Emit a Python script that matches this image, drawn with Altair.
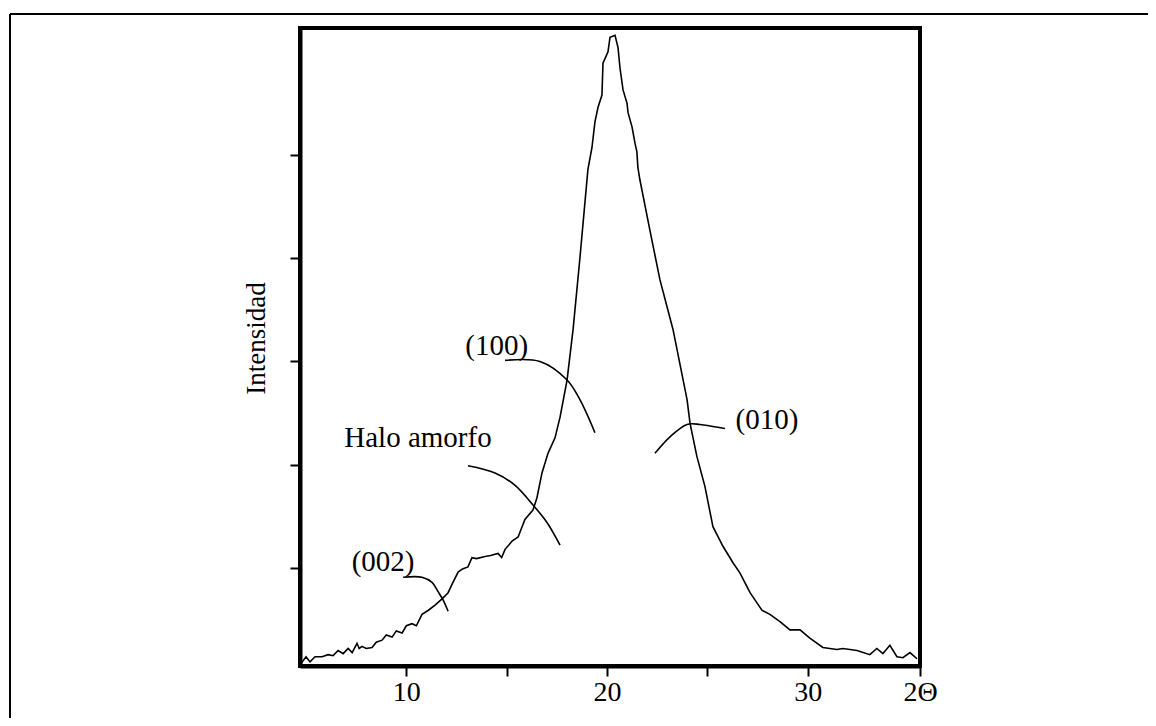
import altair as alt
import pandas as pd

# ---- data ----
two_theta = [4.75, 4.85, 5.0, 5.2, 5.45, 5.8, 6.1, 6.35, 6.6, 6.85, 7.1, 7.3, 7.54, 7.65, 7.79,
             8.0, 8.29, 8.5, 8.79, 9.0, 9.29, 9.5, 9.79, 10.0, 10.28, 10.5, 10.78, 11.1, 11.43,
             11.78, 12.08, 12.3, 12.58, 12.8, 13.07, 13.27, 13.5, 13.92, 14.2, 14.57, 14.75,
             14.92, 15.1, 15.27, 15.57, 15.91, 16.31, 16.51, 16.76, 17.06, 17.41, 17.66, 18.01,
             18.31, 18.65, 19.05, 19.25, 19.40, 19.55, 19.75, 19.80, 20.05, 20.15, 20.40, 20.55,
             20.65, 20.80, 21.00, 21.05, 21.25, 21.40, 21.49, 21.54, 21.64, 22.14, 22.64, 23.29,
             23.99, 24.14, 24.48, 24.88, 25.28, 25.78, 26.28, 26.63, 27.13, 27.72, 28.12, 28.62,
             29.12, 29.62, 30.11, 30.76, 31.46, 31.76, 32.46, 33.10, 33.45, 33.75, 34.10, 34.45,
             34.75, 35.10, 35.45]
intensity = [0.07, 0.10, 0.14, 0.09, 0.14, 0.14, 0.16, 0.15, 0.20, 0.17, 0.22, 0.18, 0.27, 0.22,
             0.24, 0.22, 0.23, 0.28, 0.30, 0.35, 0.33, 0.39, 0.37, 0.44, 0.46, 0.44, 0.55, 0.59,
             0.64, 0.70, 0.76, 0.85, 0.96, 0.99, 1.01, 1.10, 1.09, 1.11, 1.12, 1.14, 1.10, 1.18,
             1.22, 1.26, 1.30, 1.47, 1.56, 1.68, 1.92, 2.11, 2.26, 2.46, 2.82, 3.31, 4.00, 4.86,
             5.07, 5.32, 5.46, 5.58, 5.89, 6.00, 6.14, 6.16, 6.04, 5.84, 5.63, 5.50, 5.41, 5.27,
             5.11, 5.03, 4.88, 4.76, 4.27, 3.79, 3.31, 2.63, 2.40, 2.08, 1.79, 1.40, 1.21, 1.05,
             0.95, 0.76, 0.59, 0.55, 0.48, 0.40, 0.40, 0.32, 0.23, 0.21, 0.22, 0.20, 0.16, 0.22,
             0.17, 0.25, 0.14, 0.13, 0.18, 0.12]

label_text = ["(002)", "Halo amorfo", "(100)", "(010)"]
label_x = [8.84, 10.58, 14.50, 27.97]
label_y = [1.06, 2.26, 3.15, 2.43]

lead_002_x = [9.84, 10.78, 11.28, 11.58, 11.83, 12.08]
lead_002_y = [0.91, 0.91, 0.86, 0.77, 0.69, 0.58]
lead_halo_x = [13.07, 14.42, 15.42, 16.31, 17.01, 17.66]
lead_halo_y = [1.99, 1.92, 1.80, 1.61, 1.44, 1.22]
lead_100_x = [14.92, 16.66, 18.01, 18.65, 19.40]
lead_100_y = [3.01, 3.00, 2.82, 2.63, 2.31]
lead_010_x = [22.39, 23.14, 23.99, 24.63, 25.28, 25.88]
lead_010_y = [2.11, 2.27, 2.39, 2.39, 2.37, 2.35]

x_ticks = [10, 15, 20, 25, 30, 35.6]
y_ticks = [1, 2, 3, 4, 5]
X_DOM = [4.7, 35.6]
Y_DOM = [0.05, 6.23]

FONT = "Liberation Serif"

curve = pd.DataFrame({"x": two_theta, "y": intensity, "i": range(len(two_theta))})
labels = pd.DataFrame({"x": label_x, "y": label_y, "t": label_text})

rows = []
for g, (xs, ys) in enumerate([(lead_002_x, lead_002_y), (lead_halo_x, lead_halo_y),
                              (lead_100_x, lead_100_y), (lead_010_x, lead_010_y)]):
    for k, (a, b) in enumerate(zip(xs, ys)):
        rows.append({"x": a, "y": b, "g": g, "k": k})
leaders = pd.DataFrame(rows)

xscale = alt.Scale(domain=X_DOM, nice=False, zero=False)
yscale = alt.Scale(domain=Y_DOM, nice=False, zero=False)

xaxis = alt.Axis(values=x_ticks, title=None, grid=False,
                 labelExpr="datum.value == 15 || datum.value == 25 ? '' : (datum.value > 35 ? '2\u0398' : datum.label)",
                 domainWidth=4, domainColor="black", tickColor="black", tickWidth=2, tickSize=10,
                 labelFont=FONT, labelFontSize=28, labelColor="black", labelPadding=2,
                 labelFlush=False, labelOverlap=False)
yaxis = alt.Axis(values=y_ticks, labels=False, grid=False, title="Intensidad",
                 domainWidth=4, domainColor="black", tickColor="black", tickWidth=2, tickSize=10,
                 titleFont=FONT, titleFontSize=27, titleFontWeight="normal", titleColor="black",
                 titlePadding=19, titleY=310)

line = alt.Chart(curve).mark_line(color="black", strokeWidth=1.6).encode(
    x=alt.X("x:Q", scale=xscale, axis=xaxis),
    y=alt.Y("y:Q", scale=yscale, axis=yaxis),
    order="i:Q",
)

lead = alt.Chart(leaders).mark_line(color="black", strokeWidth=1.6, interpolate="catmull-rom").encode(
    x=alt.X("x:Q", scale=xscale),
    y=alt.Y("y:Q", scale=yscale),
    detail="g:N",
    order="k:Q",
)

text = alt.Chart(labels).mark_text(font=FONT, fontSize=29, color="black").encode(
    x=alt.X("x:Q", scale=xscale),
    y=alt.Y("y:Q", scale=yscale),
    text="t:N",
)

one = pd.DataFrame({"a": [0]})
frame_top = alt.Chart(one).mark_rule(color="black", strokeWidth=2).encode(
    x=alt.value(-290), x2=alt.value(860), y=alt.value(-14))
frame_left = alt.Chart(one).mark_rule(color="black", strokeWidth=2).encode(
    x=alt.value(-290), y=alt.value(-14), y2=alt.value(700))

chart = alt.layer(line, lead, text, frame_top, frame_left).properties(
    width=620, height=638,
    autosize=alt.AutoSizeParams(type="none"),
    padding={"left": 292, "top": 20, "right": 228, "bottom": 52},
).configure(background="white").configure_view(stroke="black", strokeWidth=4)

chart.save("out.html", embed_options={"renderer": "svg", "actions": False})
